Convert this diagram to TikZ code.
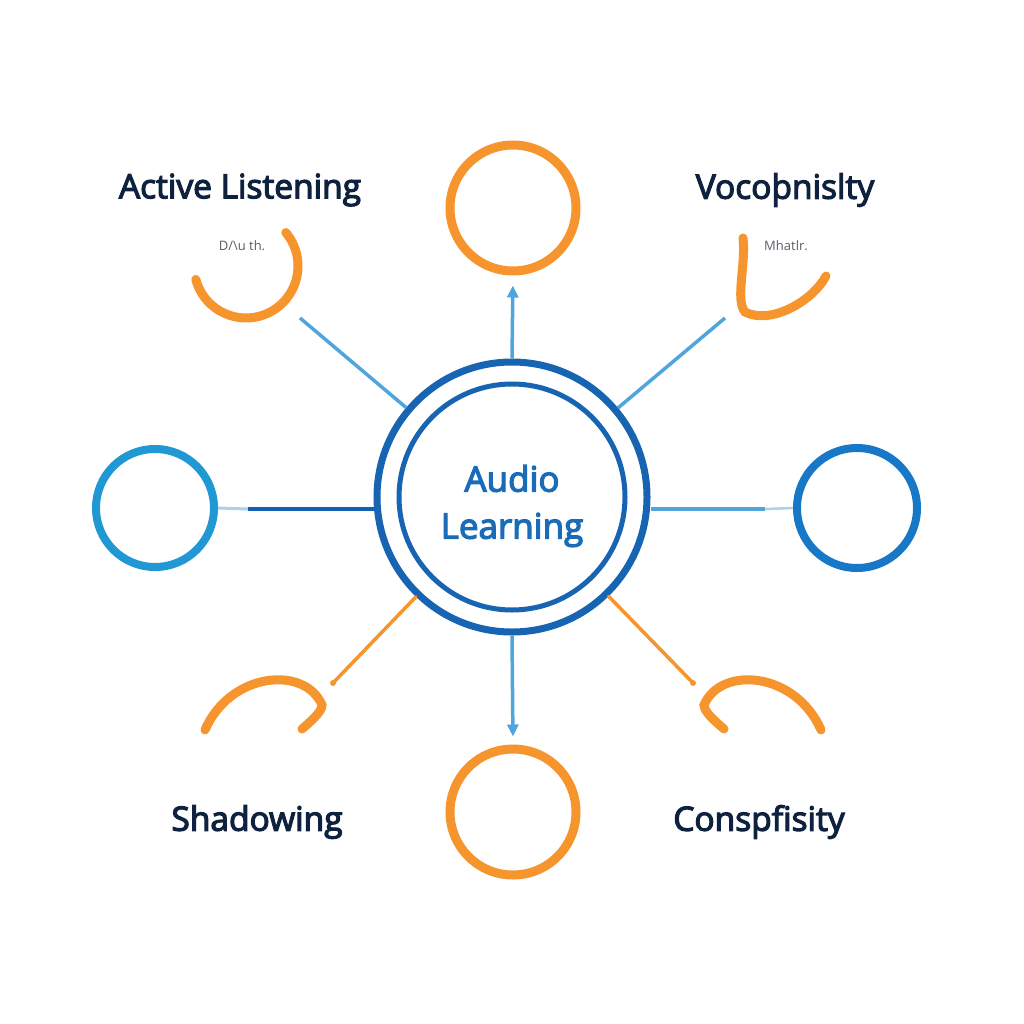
\documentclass[tikz,border=0pt]{standalone}
\usepackage{fontspec}
\setmainfont{Open Sans}
\newfontfamily\labfont{Open Sans}[FakeBold=3.5]
\newfontfamily\tinyfont{Open Sans}
\usetikzlibrary{arrows.meta}
\definecolor{ringblue}{RGB}{22,100,178}
\definecolor{linkblue}{RGB}{80,165,220}
\definecolor{paleblue}{RGB}{170,210,238}
\definecolor{darklink}{RGB}{18,96,178}
\definecolor{orng}{RGB}{246,148,45}
\definecolor{leftblue}{RGB}{31,152,212}
\definecolor{rightblue}{RGB}{24,120,200}
\definecolor{navy}{RGB}{14,34,64}
\definecolor{midtext}{RGB}{27,108,184}
\definecolor{smallgray}{RGB}{90,95,105}
\tikzset{
  ring/.style={circle, draw=ringblue, inner sep=0pt},
  sat/.style={circle, draw=orng, line width=9pt, minimum size=126pt, inner sep=0pt},
  lbl/.style={text=navy, font=\labfont\fontsize{33.5}{38}\selectfont, inner sep=0pt},
  tiny/.style={text=smallgray, font=\tinyfont\fontsize{13}{15}\selectfont, inner sep=0pt},
  bluelink/.style={draw=linkblue, line width=3.5pt},
  orlink/.style={draw=orng, line width=3.5pt},
  arc/.style={draw=orng, line width=9pt, line cap=round}
}
\begin{document}
\begin{tikzpicture}[x=1pt,y=-1pt]
\useasboundingbox (0,0) rectangle (1024,1024);
\fill[white] (0,0) rectangle (1024,1024);
% center
\node[ring, line width=7pt, minimum size=270pt] (c) at (512,497) {};
\node[ring, line width=5pt, minimum size=226pt] (ci) at (512,497) {};
\node[text=midtext, font=\labfont\fontsize{35}{47}\selectfont, align=center] (ct) at (512,506) {Audio\\Learning};
% satellites
\node[sat] (top) at (513,208) {};
\node[sat] (bot) at (513,812) {};
\node[sat, draw=leftblue, line width=8pt, minimum size=118pt] (left) at (155,508) {};
\node[sat, draw=rightblue, line width=8pt, minimum size=120pt] (right) at (857,508) {};
% labels
\node[lbl] (l1) at (240,190) {Active Listening};
\node[lbl] (l2) at (785,190) {Vocoþnislty};
\node[lbl] (l3) at (257,822) {Shadowing};
\node[lbl] (l4) at (759,822) {Conspfisity};
\node[tiny] (t1) at (242,246) {D/\textbackslash u th.};
\node[tiny] (t2) at (786,246) {Mhatlr.};
% arcs
\draw[arc] (246,266) ++(165:52) arc[start angle=165, end angle=-40, radius=52];
\draw[arc] (743,238) .. controls (746,265) and (735,300) .. (745,312) .. controls (770,325) and (812,302) .. (826,276);
\draw[arc] (205,730) .. controls (230,672) and (305,665) .. (322,705) .. controls (322,712) and (310,722) .. (302,729);
\draw[arc] (821,730) .. controls (796,672) and (721,665) .. (704,705) .. controls (704,712) and (716,722) .. (724,729);
% coordinates
\coordinate (ul) at (300,318);
\coordinate (ur) at (725,318);
\coordinate (ll) at (333,683);
\coordinate (lr) at (693,683);
\coordinate (lm) at (248,509);
\coordinate (rm) at (765,509);
% connectors
\draw[bluelink, -{Triangle[length=12pt,width=11pt]}, shorten >=10pt] (c.north) -- (top.south);
\draw[bluelink, -{Triangle[length=12pt,width=11pt]}, shorten >=8pt] (c.south) -- (bot.north);
\draw[bluelink] (ul) -- (c);
\draw[bluelink] (ur) -- (c);
\draw[orlink, line cap=round] (c) -- (ll);
\fill[orng] (ll) circle (3pt);
\draw[orlink, line cap=round] (c) -- (lr);
\fill[orng] (lr) circle (3pt);
\draw[draw=paleblue, line width=3pt] (left.east) -- (lm);
\draw[draw=darklink, line width=4.5pt] (lm) -- (c.west |- lm);
\draw[draw=linkblue, line width=4pt] (c.east |- rm) -- (rm);
\draw[draw=paleblue, line width=2.5pt] (rm) -- (right.west);
\end{tikzpicture}
\end{document}
